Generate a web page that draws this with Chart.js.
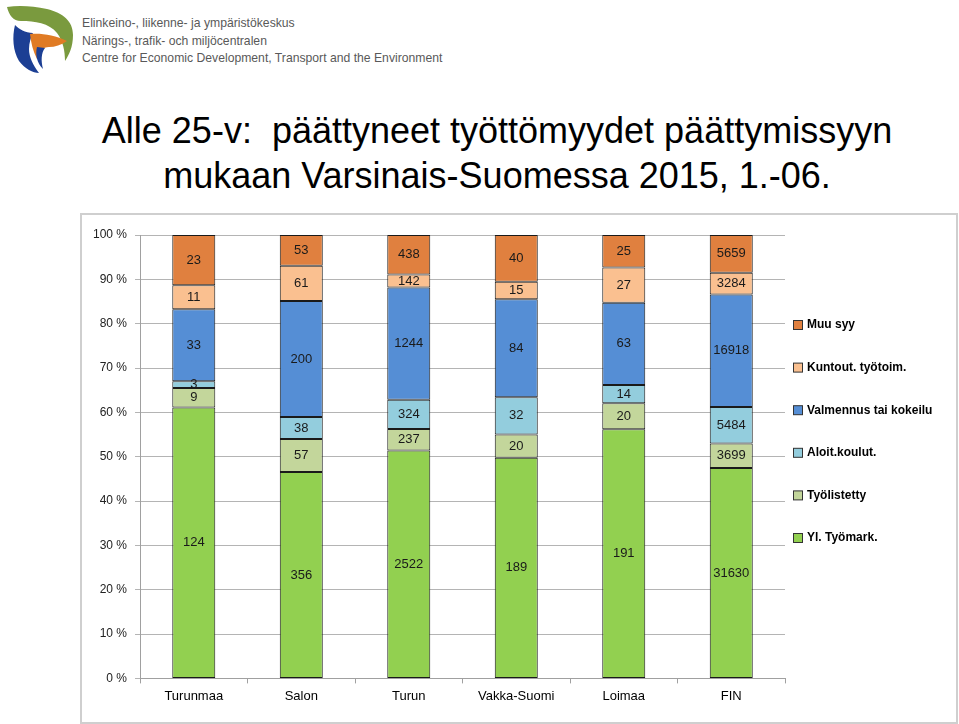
<!DOCTYPE html>
<html>
<head>
<meta charset="utf-8">
<script src="https://cdn.jsdelivr.net/npm/chart.js@4.4.1/dist/chart.umd.min.js"></script>
<style>
    body { margin: 0; width: 959px; height: 724px; background: #fff; font-family: "Liberation Sans", Arial, sans-serif; position: relative; overflow: hidden; }
    #logo { position: absolute; left: 3px; top: 3px; }
    #logo-text { position: absolute; left: 82px; top: 15px; font-size: 12.2px; line-height: 17.5px; color: #595959; }
    #title { position: absolute; left: 0; width: 994px; top: 108px; text-align: center; font-size: 36px; line-height: 45px; color: #000; }
    #box { position: absolute; left: 80px; top: 213px; width: 874px; height: 507px; border: 2px solid #cfcfcf; }
</style>
</head>
<body>
<svg id="logo" width="72" height="72" viewBox="0 0 72 72">
    <path d="M4 4 C16 2 30 3 44 6 C60 10 70 18 70 32 C70 44 66 52 62 58 C62 48 60 38 54 30 C46 20 32 18 18 18 C10 18 6 12 4 4 Z" fill="#7a9a3e"/>
    <path d="M12 22 C9 34 10 48 16 58 C22 66 30 70 36 70 C30 62 26 54 26 46 C26 40 28 34 30 30 C22 30 16 26 12 22 Z" fill="#1c3f94"/>
    <path d="M27 31 C38 30 52 32 64 38 C58 42 52 44 46 44 C40 44 36 48 34 56 C30 48 28 40 27 31 Z" fill="#e07b24"/>
    <path d="M34 44 C32 52 34 60 40 66 C38 58 38 50 42 45 Z" fill="#1c3f94"/>
</svg>
<div id="logo-text">Elinkeino-, liikenne- ja ympäristökeskus<br>Närings-, trafik- och miljöcentralen<br>Centre for Economic Development, Transport and the Environment</div>
<div id="title">Alle 25-v:&nbsp; päättyneet työttömyydet päättymissyyn<br>mukaan Varsinais-Suomessa 2015, 1.-06.</div>
<div id="box"><canvas id="chart" width="874" height="507"></canvas></div>
<script>
const categories = ["Turunmaa", "Salon", "Turun", "Vakka-Suomi", "Loimaa", "FIN"];
const ylTyomark = [124, 356, 2522, 189, 191, 31630];
const tyolistetty = [9, 57, 237, 20, 20, 3699];
const aloitKoulut = [3, 38, 324, 32, 14, 5484];
const valmennus = [33, 200, 1244, 84, 63, 16918];
const kuntout = [11, 61, 142, 15, 27, 3284];
const muuSyy = [23, 53, 438, 40, 25, 5659];
const yTicks = [0, 10, 20, 30, 40, 50, 60, 70, 80, 90, 100];

const series = [
    { label: "Yl. Työmark.", counts: ylTyomark, color: "#92d050" },
    { label: "Työlistetty", counts: tyolistetty, color: "#c3d69b" },
    { label: "Aloit.koulut.", counts: aloitKoulut, color: "#93cddd" },
    { label: "Valmennus tai kokeilu", counts: valmennus, color: "#558ed5" },
    { label: "Kuntout. työtoim.", counts: kuntout, color: "#fac090" },
    { label: "Muu syy", counts: muuSyy, color: "#e0803f" }
];

const FONT = "'Liberation Sans', Arial, sans-serif";

let totals = categories.map((c, i) => series.reduce((sum, s) => sum + s.counts[i], 0));

let datasets = series.map(s => ({
    label: s.label,
    data: s.counts.map((v, i) => v / totals[i] * 100),
    counts: s.counts,
    backgroundColor: s.color,
    borderColor: "#1a1a1a",
    borderWidth: 1,
    borderSkipped: false,
    barPercentage: 0.4,
    categoryPercentage: 1
}));

// count labels in the middle of each segment
const valueLabels = {
    id: "valueLabels",
    afterDatasetsDraw(chart) {
        let ctx = chart.ctx;
        ctx.save();
        ctx.font = "13px " + FONT;
        ctx.fillStyle = "#1a1a1a";
        ctx.textAlign = "center";
        ctx.textBaseline = "middle";
        chart.data.datasets.forEach((ds, di) => {
            chart.getDatasetMeta(di).data.forEach((bar, i) => {
                ctx.fillText(String(ds.counts[i]), bar.x, (bar.y + bar.base) / 2);
            });
        });
        ctx.restore();
    }
};

// legend on the right, top item = last series
const sideLegend = {
    id: "sideLegend",
    afterDraw(chart) {
        let ctx = chart.ctx;
        let x = chart.chartArea.right + 8;
        let y = 110;
        ctx.save();
        ctx.font = "bold 12px " + FONT;
        ctx.textBaseline = "middle";
        ctx.textAlign = "left";
        let list = chart.data.datasets.slice().reverse();
        list.forEach((ds, k) => {
            let cy = y + k * 42.6;
            ctx.fillStyle = ds.backgroundColor;
            ctx.fillRect(x + 0.5, cy - 4.5, 9, 9);
            ctx.strokeStyle = "#333";
            ctx.lineWidth = 1;
            ctx.strokeRect(x + 0.5, cy - 4.5, 9, 9);
            ctx.fillStyle = "#000";
            ctx.fillText(ds.label, x + 14, cy);
        });
        ctx.restore();
    }
};

new Chart(document.getElementById("chart"), {
    type: "bar",
    data: { labels: categories, datasets: datasets },
    plugins: [valueLabels, sideLegend],
    options: {
        responsive: false,
        animation: false,
        layout: { padding: { top: 20, left: 3, right: 171, bottom: 13 } },
        plugins: {
            tooltip: { enabled: false },
            legend: { display: false }
        },
        scales: {
            x: {
                stacked: true,
                grid: { drawOnChartArea: false, color: "#a0a0a0", tickLength: 5 },
                border: { color: "#a0a0a0" },
                ticks: { color: "#000", font: { family: FONT, size: 13 }, padding: 5 }
            },
            y: {
                stacked: true,
                min: 0,
                max: 100,
                afterBuildTicks: axis => { axis.ticks = yTicks.map(v => ({ value: v })); },
                grid: { color: "#b4b4b4", tickLength: 5 },
                border: { color: "#a0a0a0" },
                ticks: { color: "#222", font: { family: FONT, size: 12 }, padding: 8, callback: v => v + " %" }
            }
        }
    }
});
</script>
</body>
</html>
